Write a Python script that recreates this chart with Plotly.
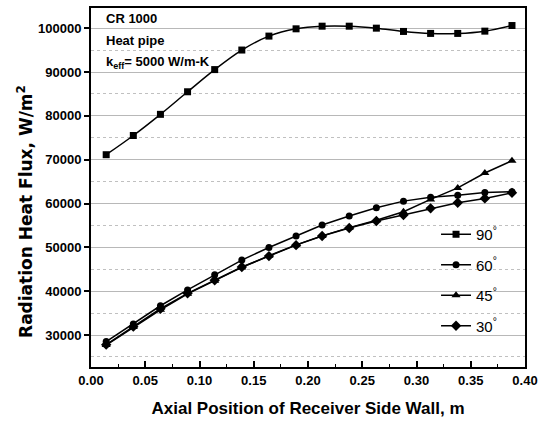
import plotly.graph_objects as go

x_pos = [0.014, 0.039, 0.064, 0.089, 0.114, 0.139, 0.164, 0.189,
         0.213, 0.238, 0.263, 0.288, 0.313, 0.338, 0.363, 0.388]

flux_90 = [71130, 75510, 80340, 85490, 90550, 95010, 98190, 99850,
           100450, 100450, 100000, 99250, 98800, 98800, 99320, 100600]
flux_60 = [28500, 32500, 36670, 40290, 43760, 47100, 49960, 52610,
           55100, 57140, 59030, 60540, 61450, 61900, 62500, 62700]
flux_45 = [27700, 31800, 35760, 39390, 42400, 45420, 48070, 50570,
           52610, 54490, 56170, 58120, 60930, 63560, 66960, 69770]
flux_30 = [27800, 31900, 36000, 39500, 42500, 45500, 48000, 50500,
           52600, 54400, 56010, 57370, 58890, 60160, 61160, 62430]

series = [
    ("90<sup>°</sup>", flux_90, "square", 7, "spline"),
    ("60<sup>°</sup>", flux_60, "circle", 7, "linear"),
    ("45<sup>°</sup>", flux_45, "triangle-up", 8, "linear"),
    ("30<sup>°</sup>", flux_30, "diamond", 8, "linear"),
]

fig = go.Figure()
for i, (name, ys, sym, sz, shape) in enumerate(series):
    fig.add_trace(go.Scatter(
        x=x_pos, y=ys, name=name, mode="lines+markers",
        line=dict(color="black", width=1.5, shape=shape),
        marker=dict(symbol=sym, size=sz, color="black"),
        legendgroup=f"g{i}",
    ))

bold = "Liberation Sans"
fig.update_layout(
    width=544, height=426,
    margin=dict(l=91, r=19, t=6, b=59),
    paper_bgcolor="white", plot_bgcolor="white",
    font=dict(family=bold, color="black"),
    legend=dict(x=0.795, y=0.415, xanchor="left", yanchor="top",
                bgcolor="rgba(0,0,0,0)", font=dict(size=15, family="Liberation Sans"),
                tracegroupgap=8),
    xaxis=dict(
        range=[0, 0.4], dtick=0.05, tickformat=".2f",
        showgrid=False, zeroline=False,
        showline=True, linecolor="black", linewidth=2, mirror=True,
        ticks="inside", ticklen=6, tickwidth=1.5, tickcolor="black",
        tickfont=dict(size=13, family=bold, weight="bold"),
        minor=dict(dtick=0.025, ticks="inside", ticklen=3, tickwidth=1, tickcolor="black"),
        title=dict(text="<b>Axial Position of Receiver Side Wall, m</b>",
                   font=dict(size=17, family=bold), standoff=16),
    ),
    yaxis=dict(
        range=[22700, 104600], dtick=10000, tick0=0, tickformat="d",
        showgrid=True, gridcolor="#b8b8b8", gridwidth=1, zeroline=False,
        showline=True, linecolor="black", linewidth=2, mirror=True,
        ticks="outside", ticklen=5, tickwidth=1.5, tickcolor="black",
        tickfont=dict(size=13, family=bold, weight="bold"),
        minor=dict(dtick=5000, showgrid=True, gridcolor="#c0c0c0", griddash="dot", gridwidth=1),
    ),
)

# y-axis title (placed as annotation to match its offset position)
fig.add_annotation(text="<b>Radiation Heat Flux, W/m<sup>2</sup></b>", textangle=-90,
                   xref="paper", yref="paper", x=-0.152, y=0.432,
                   xanchor="center", yanchor="middle", showarrow=False,
                   font=dict(size=17, family="DejaVu Sans", color="black"))

notes = ["<b>CR 1000</b>", "<b>Heat pipe</b>", "<b>k<sub>eff</sub>= 5000 W/m-K</b>"]
for j, t in enumerate(notes):
    fig.add_annotation(text=t, xref="paper", yref="paper", x=0.03, y=(367 - 17 - 22 * j) / 361,
                       xanchor="left", yanchor="middle", showarrow=False,
                       font=dict(size=13, family=bold, color="black"))

fig.write_html("out.html")
